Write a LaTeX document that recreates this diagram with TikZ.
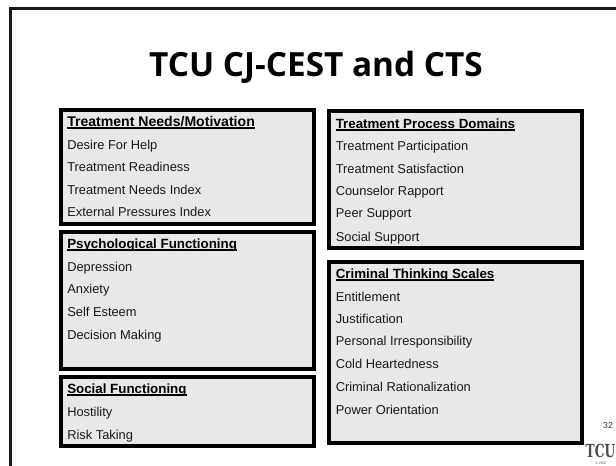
\documentclass[tikz,border=0pt]{standalone}
\usepackage{fontspec}
\setmainfont{Liberation Sans}
\newfontfamily\titlefont{Open Sans}[BoldFont={Open Sans Bold}]
\newfontfamily\logofont{DejaVu Serif}
\definecolor{panelgrey}{HTML}{E8E8E8}
\definecolor{itemink}{HTML}{1A1A1A}
\tikzset{
  x=0.75pt,y=-0.75pt,
  panel/.style={draw=black,line width=2.7pt,fill=panelgrey},
  frameline/.style={draw=black!90,line width=1.9pt},
  itemtext/.style={anchor=base west,inner sep=0pt,font=\fontsize{9.65pt}{11pt}\selectfont,text=itemink},
  headtext/.style={anchor=base west,inner sep=0pt,font=\fontsize{10pt}{11pt}\selectfont\bfseries,text=black},
}
\newcommand{\uhead}[1]{\setbox0=\hbox{#1}\copy0\llap{\rule[-1.9pt]{\wd0}{1.05pt}}}
\begin{document}
\begin{tikzpicture}
\useasboundingbox (0,0) rectangle (616,465);
\clip (0,0) rectangle (616,465);
\fill[white] (0,0) rectangle (616,465);
\draw[frameline] (10.5,480) -- (10.5,8.5) -- (630,8.5);
\node[anchor=base,inner sep=0pt,font=\titlefont\bfseries\fontsize{25pt}{28pt}\selectfont] (title) at (316,76) {TCU CJ-CEST and CTS};
% panels
\draw[panel] (61,110) rectangle (314,224);
\draw[panel] (61,232) rectangle (314,369);
\draw[panel] (61,377) rectangle (314,446);
\draw[panel] (329,111) rectangle (582,248);
\draw[panel] (329,262) rectangle (582,443);
% left column
\node[headtext,font=\fontsize{10.55pt}{11pt}\selectfont\bfseries] (a0) at (67,126) {\uhead{Treatment Needs/Motivation}};
\node[itemtext] (a1) at (67,149.2) {Desire For Help};
\node[itemtext] (a2) at (67,171.7) {Treatment Readiness};
\node[itemtext] (a3) at (67,194.2) {Treatment Needs Index};
\node[itemtext] (a4) at (67,216.7) {External Pressures Index};
\node[headtext] (b0) at (67,248) {\uhead{Psychological Functioning}};
\node[itemtext] (b1) at (67,271.2) {Depression};
\node[itemtext] (b2) at (67,293.2) {Anxiety};
\node[itemtext] (b3) at (67,316.2) {Self Esteem};
\node[itemtext] (b4) at (67,339.2) {Decision Making};
\node[headtext] (c0) at (67,393) {\uhead{Social Functioning}};
\node[itemtext] (c1) at (67,416.2) {Hostility};
\node[itemtext] (c2) at (67,439.2) {Risk Taking};
% right column
\node[headtext] (d0) at (335.5,128) {\uhead{Treatment Process Domains}};
\node[itemtext] (d1) at (335.5,150.2) {Treatment Participation};
\node[itemtext] (d2) at (335.5,173.2) {Treatment Satisfaction};
\node[itemtext] (d3) at (335.5,195.7) {Counselor Rapport};
\node[itemtext] (d4) at (335.5,217.7) {Peer Support};
\node[itemtext] (d5) at (335.5,241.2) {Social Support};
\node[headtext] (e0) at (335.5,278) {\uhead{Criminal Thinking Scales}};
\node[itemtext] (e1) at (335.5,301.2) {Entitlement};
\node[itemtext] (e2) at (335.5,323.2) {Justification};
\node[itemtext] (e3) at (335.5,345.7) {Personal Irresponsibility};
\node[itemtext] (e4) at (335.5,368.7) {Cold Heartedness};
\node[itemtext] (e5) at (335.5,391.7) {Criminal Rationalization};
\node[itemtext] (e6) at (335.5,414.2) {Power Orientation};
% page mark
\node[anchor=base,inner sep=0pt,font=\fontsize{6.5pt}{8pt}\selectfont,text=black!80] (pg) at (608,428) {32};
\node[anchor=base west,inner sep=0pt,font=\logofont\fontsize{13.5pt}{14pt}\selectfont\bfseries,text=black!70,xscale=0.68,transform shape] (logo) at (585.5,457) {TCU};
\node[anchor=base,inner sep=0pt,font=\fontsize{2.6pt}{3pt}\selectfont,text=black!70] (yr) at (601,464) {© 2007};
\end{tikzpicture}
\end{document}
